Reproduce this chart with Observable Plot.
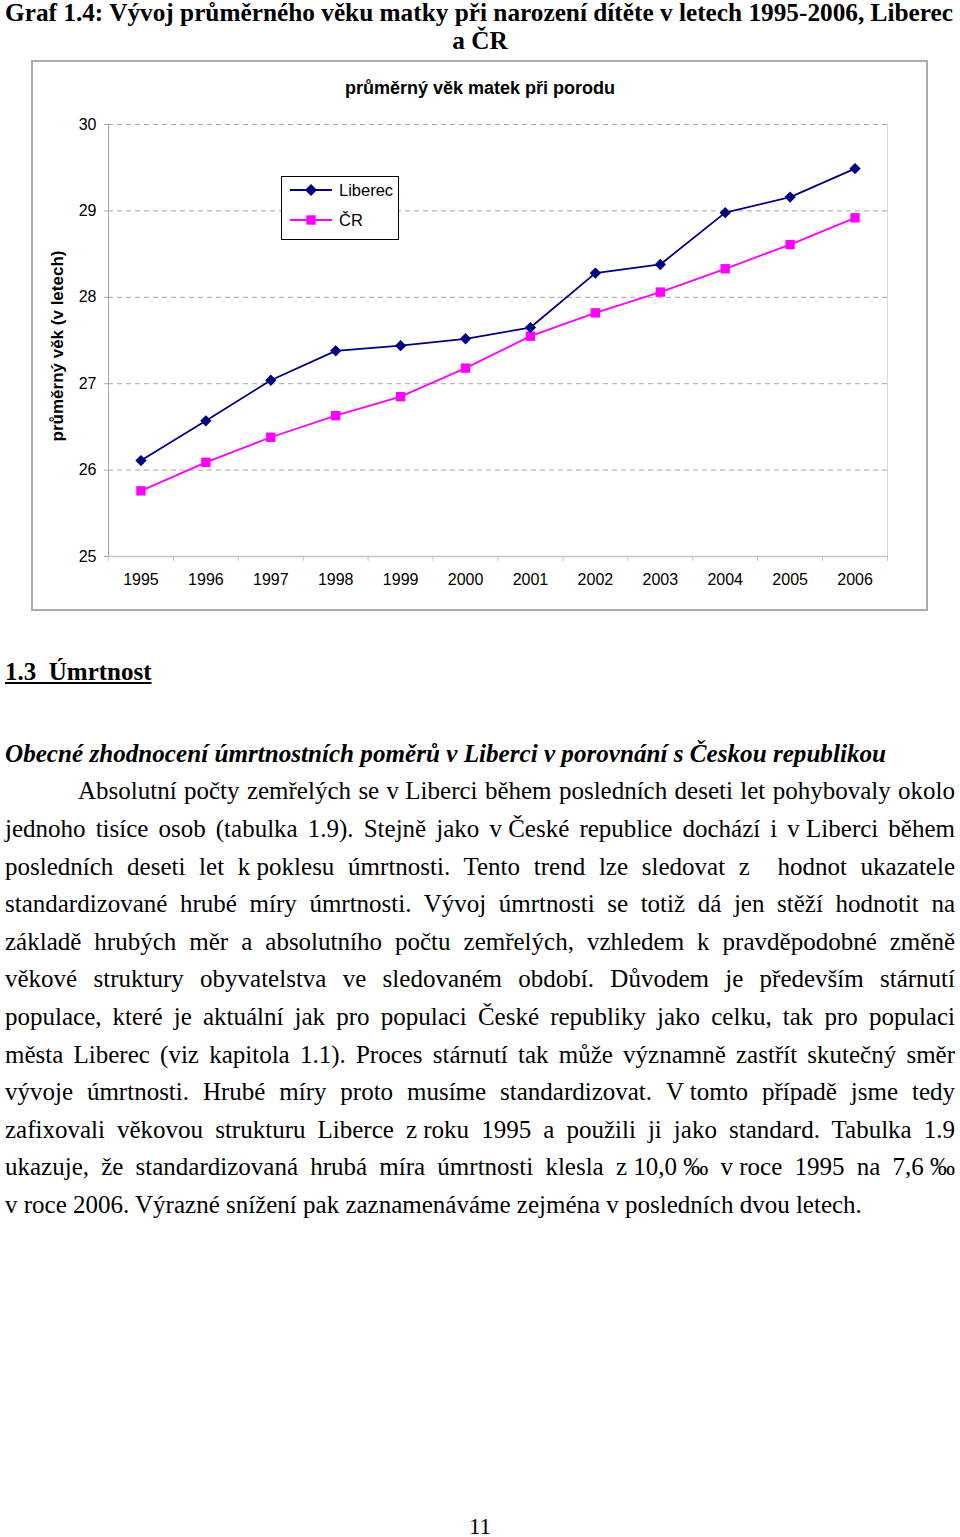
<!DOCTYPE html>
<html><head><meta charset="utf-8">
<script src="https://cdn.jsdelivr.net/npm/d3@7"></script>
<script src="https://cdn.jsdelivr.net/npm/@observablehq/plot@0.6"></script>
<style>
html,body{margin:0;padding:0;background:#fff;}
body{width:960px;height:1537px;position:relative;overflow:hidden;font-family:"Liberation Serif","Times New Roman",serif;color:#000;}
.abs{position:absolute;white-space:pre;line-height:1;}
.title{font-weight:bold;font-size:26px;}
.body{position:absolute;font-size:25px;line-height:25px;text-align:justify;text-align-last:justify;white-space:normal;}
.nb{display:inline-block;white-space:pre;}
.sans{font-family:"Liberation Sans",Arial,sans-serif;}
#box{position:absolute;left:31px;top:60px;width:897px;height:551px;border:2px solid #ababab;box-sizing:border-box;}
#legend{position:absolute;left:281px;top:176px;width:118px;height:64px;border:1.5px solid #000;box-sizing:border-box;background:#fff;}
</style></head><body>
<div id="box"></div>
<div id="chart" style="position:absolute;left:0;top:61px;"></div>

<div id="t1" class="abs title" style="left:5px;top:0px;">Graf 1.4: Vývoj průměrného věku matky při narození dítěte v letech 1995-2006, Liberec</div>
<div id="t2" class="abs title" style="left:480px;top:28px;">a ČR</div>

<div class="abs sans" style="left:0;width:960px;text-align:center;top:79px;font-size:18px;font-weight:bold;">průměrný věk matek při porodu</div>
<div class="abs sans" style="left:57px;top:346px;font-size:17px;font-weight:bold;transform:translate(-50%,-50%) rotate(-90deg);">průměrný věk (v letech)</div>

<div id="legend"></div>

<div id="h1" class="abs" style="left:5px;top:659px;font-size:25px;font-weight:bold;text-decoration:underline;">1.3  Úmrtnost</div>
<div id="h2" class="abs" style="left:5px;top:741px;font-size:25px;font-weight:bold;font-style:italic;">Obecné zhodnocení úmrtnostních poměrů v Liberci v porovnání s Českou republikou</div>

<div id="bodytext"></div>

<div class="abs" style="left:0;width:960px;text-align:center;top:1515px;font-size:23px;">11</div>

<script>
// ---- data ----
const years = [1995, 1996, 1997, 1998, 1999, 2000, 2001, 2002, 2003, 2004, 2005, 2006];
const liberec = [26.11, 26.57, 27.04, 27.38, 27.44, 27.52, 27.65, 28.28, 28.38, 28.98, 29.16, 29.49];
const cr = [25.76, 26.09, 26.38, 26.63, 26.85, 27.18, 27.55, 27.82, 28.06, 28.33, 28.61, 28.92];
const yTicks = [25, 26, 27, 28, 29, 30];
const seriesNames = ["Liberec", "ČR"];
const seriesColors = ["#000080", "#ff00ff"];

const libRows = years.map((y, i) => ({year: y, value: liberec[i], s: seriesNames[0]}));
const crRows = years.map((y, i) => ({year: y, value: cr[i], s: seriesNames[1]}));
const bounds = [...years.map(y => y - 0.5), years[years.length - 1] + 0.5];

const chart = Plot.plot({
  width: 960, height: 560,
  marginLeft: 108, marginRight: 73, marginTop: 63, marginBottom: 65,
  style: {background: "transparent", fontFamily: "'Liberation Sans', Arial, sans-serif", fontSize: "16px", color: "#000", overflow: "visible"},
  x: {type: "linear", domain: [bounds[0], bounds[bounds.length - 1]], label: null},
  y: {domain: [yTicks[0], yTicks[yTicks.length - 1]], label: null},
  marks: [
    Plot.ruleY(yTicks.slice(1), {stroke: "#a6a6a6", strokeDasharray: "5,4", strokeWidth: 1}),
    Plot.ruleX([bounds[bounds.length - 1]], {stroke: "#dadada", strokeWidth: 1}),
    Plot.ruleX([bounds[0]], {stroke: "#a6a6a6", strokeWidth: 1}),
    Plot.ruleY([yTicks[0]], {stroke: "#c4c4c4", strokeWidth: 1.5}),
    Plot.axisX({ticks: bounds, tickFormat: () => "", tickSize: 5, stroke: "#c4c4c4", label: null}),
    Plot.axisX({ticks: years, tickFormat: d => String(d), tickSize: 0, tickPadding: 17, fill: "#000", label: null}),
    Plot.axisY({ticks: yTicks, tickFormat: d => String(d), tickSize: 4, tickPadding: 8, stroke: "#a6a6a6", fill: "#000", label: null}),
    Plot.line(crRows, {x: "year", y: "value", stroke: seriesColors[1], strokeWidth: 1.8}),
    Plot.line(libRows, {x: "year", y: "value", stroke: seriesColors[0], strokeWidth: 1.8}),
    Plot.dot(crRows, {x: "year", y: "value", symbol: "square", r: 5.3, fill: seriesColors[1], stroke: "none"}),
    Plot.dot(libRows, {x: "year", y: "value", symbol: "diamond2", r: 5.1, fill: seriesColors[0], stroke: "none"})
  ]
});
document.getElementById("chart").appendChild(chart);

// ---- legend ----
const leg = document.getElementById("legend");
const symSvg = [
  `<polygon points="21,1 27,7 21,13 15,7" fill="${seriesColors[0]}"/>`,
  `<rect x="16.3" y="2.3" width="9.4" height="9.4" fill="${seriesColors[1]}"/>`
];
seriesNames.forEach((n, i) => {
  const row = document.createElement("div");
  row.style.cssText = `position:absolute;left:8px;top:${6 + i * 30}px;height:14px;`;
  row.innerHTML = `<svg width="42" height="14" style="position:absolute;left:0;top:0;overflow:visible">
    <line x1="0" y1="7" x2="42" y2="7" stroke="${seriesColors[i]}" stroke-width="1.8"/>${symSvg[i]}</svg>
    <span class="sans" style="position:absolute;left:49px;top:-2px;font-size:16.5px;line-height:18px;white-space:pre;">${n}</span>`;
  leg.appendChild(row);
});

// ---- body text ----
const lines = [
  'Absolutní počty zemřelých se <span class="nb">v Liberci</span> během posledních deseti let pohybovaly okolo',
  'jednoho tisíce osob (tabulka 1.9). Stejně jako <span class="nb">v České</span> republice dochází i <span class="nb">v Liberci</span> během',
  'posledních deseti let <span class="nb">k poklesu</span> úmrtnosti. Tento trend lze sledovat z&nbsp; hodnot ukazatele',
  'standardizované hrubé míry úmrtnosti. Vývoj úmrtnosti se totiž dá jen stěží hodnotit na',
  'základě hrubých měr a absolutního počtu zemřelých, vzhledem k pravděpodobné změně',
  'věkové struktury obyvatelstva ve sledovaném období. Důvodem je především stárnutí',
  'populace, které je aktuální jak pro populaci České republiky jako celku, tak pro populaci',
  'města Liberec (viz kapitola 1.1). Proces stárnutí tak může významně zastřít skutečný směr',
  'vývoje úmrtnosti. Hrubé míry proto musíme standardizovat. <span class="nb">V tomto</span> případě jsme tedy',
  'zafixovali věkovou strukturu Liberce <span class="nb">z roku</span> 1995 a použili ji jako standard. Tabulka 1.9',
  'ukazuje, že standardizovaná hrubá míra úmrtnosti klesla <span class="nb">z 10,0 ‰</span> <span class="nb">v roce</span> 1995 na <span class="nb">7,6 ‰</span>',
  'v roce 2006. Výrazné snížení pak zaznamenáváme zejména v posledních dvou letech.'
];
const bt = document.getElementById("bodytext");
lines.forEach((l, i) => {
  const d = document.createElement("div");
  d.className = "body";
  const base = 799.3 + i * 37.6;
  d.style.top = (base - 0.8375 * 25) + "px";
  if (i === 0) { d.style.left = "78px"; d.style.width = "877px"; }
  else { d.style.left = "5px"; d.style.width = "950px"; }
  if (i === lines.length - 1) { d.style.textAlign = "left"; d.style.textAlignLast = "left"; }
  d.innerHTML = l;
  bt.appendChild(d);
});

// ---- fit title widths ----
const t1 = document.getElementById("t1"), t2 = document.getElementById("t2");
const s = 948 / t1.getBoundingClientRect().width;
t1.style.transformOrigin = "left top";
t1.style.transform = `scaleX(${s})`;
t2.style.transformOrigin = "center top";
t2.style.transform = `translateX(-50%) scaleX(${s})`;
const h2 = document.getElementById("h2");
const s2 = 881 / h2.getBoundingClientRect().width;
h2.style.transformOrigin = "left top";
h2.style.transform = `scaleX(${s2})`;
</script>
</body></html>
